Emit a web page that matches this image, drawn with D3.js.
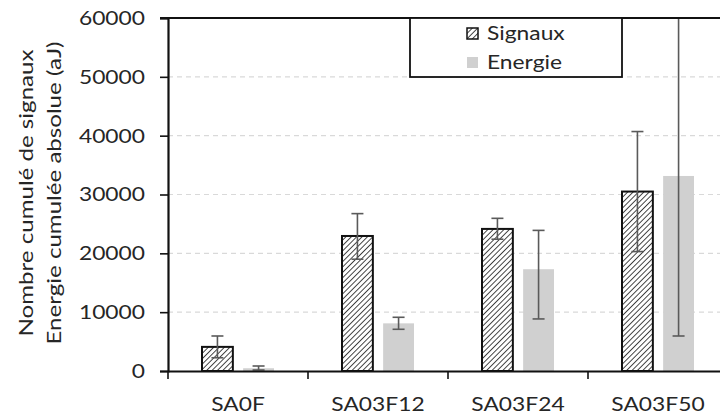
<!DOCTYPE html>
<html><head><meta charset="utf-8">
<script src="https://cdn.jsdelivr.net/npm/d3@7"></script>
<style>body{margin:0;background:#fff;} text{font-family:Lato,"Open Sans",sans-serif;fill:#262626;}</style>
</head><body>
<svg id="c" width="720" height="418"></svg>
<script>
const categories = ["SA0F","SA03F12","SA03F24","SA03F50"];
const seriesNames = ["Signaux","Energie"];
const signaux = [4100, 22950, 24150, 30500];
const signauxErrPlus = [1850, 3800, 1800, 10200];
const signauxErrMinus = [1850, 3950, 1750, 10200];
const energie = [470, 8100, 17300, 33150];
const energieErrPlus = [380, 1030, 6600, 27200];
const energieErrMinus = [300, 1010, 8450, 27200];
const yTicks = [0,10000,20000,30000,40000,50000,60000];
const yTitle = ["Nombre cumulé de signaux","Energie cumulée absolue (aJ)"];

const svg = d3.select("#c");
const L = 168, R = 728, T = 18, B = 371;
const SX = 1.14;
const x = d3.scaleBand().domain(categories).range([L, R]);
const xs = d3.scaleBand().domain(seriesNames).range([34, 106]).paddingInner(0.25);
const y = d3.scaleLinear().domain([0, 60000]).range([B, T]);

const defs = svg.append("defs");
const pat = defs.append("pattern").attr("id","hatch").attr("patternUnits","userSpaceOnUse")
  .attr("width",3.8).attr("height",3.8).attr("patternTransform","rotate(45)");
pat.append("rect").attr("width",3.8).attr("height",3.8).attr("fill","#fff");
pat.append("line").attr("x1",0).attr("y1",0).attr("x2",0).attr("y2",3.8).attr("stroke","#333").attr("stroke-width",1.8);
defs.append("clipPath").attr("id","clip").append("rect").attr("x",L).attr("y",T).attr("width",R-L).attr("height",B-T);

// gridlines
svg.append("g").selectAll("line").data(yTicks.filter(d=>d>0 && d<60000)).join("line")
  .attr("x1",L).attr("x2",720).attr("y1",d=>y(d)).attr("y2",d=>y(d))
  .attr("stroke","#d9d9d9").attr("stroke-width",1.2).attr("stroke-dasharray","5,4");

const data = categories.map((c,i)=>({c, vals:[
  {s:"Signaux", v:signaux[i], ep:signauxErrPlus[i], em:signauxErrMinus[i]},
  {s:"Energie", v:energie[i], ep:energieErrPlus[i], em:energieErrMinus[i]}]}));

const g = svg.append("g");
const cg = g.selectAll("g").data(data).join("g").attr("transform",d=>`translate(${x(d.c)},0)`);
cg.selectAll("rect").data(d=>d.vals).join("rect")
  .attr("x",d=>xs(d.s)).attr("width",xs.bandwidth())
  .attr("y",d=>y(d.v)).attr("height",d=>y(0)-y(d.v))
  .attr("fill",d=>d.s==="Signaux"?"url(#hatch)":"#d0d0d0")
  .attr("stroke",d=>d.s==="Signaux"?"#111":"none").attr("stroke-width",2);

// error bars
const eg = svg.append("g").attr("clip-path","url(#clip)");
data.forEach(d=>{
  d.vals.forEach(v=>{
    const cx = x(d.c)+xs(v.s)+xs.bandwidth()/2;
    const grp = eg.append("g").attr("stroke","#5a5a5a").attr("stroke-width",1.6);
    grp.append("line").attr("x1",cx).attr("x2",cx).attr("y1",y(v.v+v.ep)).attr("y2",y(v.v-v.em));
    [v.v+v.ep, v.v-v.em].forEach(t=>grp.append("line").attr("x1",cx-6).attr("x2",cx+6).attr("y1",y(t)).attr("y2",y(t)));
  });
});

// axes
const ya = svg.append("g").attr("transform",`translate(${L},0)`)
  .call(d3.axisLeft(y).tickValues(yTicks).tickSize(8).tickFormat(d3.format("d")));
ya.select(".domain").attr("stroke","#111").attr("stroke-width",2.2);
ya.selectAll(".tick line").attr("stroke","#111").attr("stroke-width",1.6);
ya.selectAll("text").style("font-size","20px").attr("fill","#262626")
  .attr("x",-23/SX).attr("transform",`scale(${SX},1)`);

const xa = svg.append("g").attr("transform",`translate(0,${B})`)
  .call(d3.axisBottom(x).tickSize(0).tickPadding(26));
xa.select(".domain").attr("stroke","#111").attr("stroke-width",2.2);
xa.selectAll("text").style("font-size","20px").attr("fill","#262626").attr("transform",`scale(${SX},1)`);
xa.append("g").selectAll("line").data(categories).join("line")
  .attr("x1",d=>x(d)).attr("x2",d=>x(d)).attr("y1",0).attr("y2",8)
  .attr("stroke","#111").attr("stroke-width",1.6);

// top border
svg.append("line").attr("x1",L-8).attr("x2",720).attr("y1",T).attr("y2",T).attr("stroke","#111").attr("stroke-width",2.2);

// y title
const yt = svg.append("text").attr("transform","translate(33,193) rotate(-90)").attr("text-anchor","middle").style("font-size","20px");
const tl = [287, 303];
yTitle.forEach((t,i)=>yt.append("tspan").attr("x",0).attr("dy",i===0?0:28)
  .attr("textLength",tl[i]).attr("lengthAdjust","spacingAndGlyphs").text(t));

// legend
const lg = svg.append("g");
lg.append("rect").attr("x",410).attr("y",T).attr("width",212).attr("height",59).attr("fill","#fff").attr("stroke","#111").attr("stroke-width",1.8);
seriesNames.forEach((s,i)=>{
  const yy = 33 + i*29;
  lg.append("rect").attr("x",467).attr("y",yy-5).attr("width",11).attr("height",11)
    .attr("fill",i===0?"url(#hatch)":"#d0d0d0").attr("stroke",i===0?"#111":"none").attr("stroke-width",1.5);
  lg.append("text").attr("transform",`translate(487,${yy+7}) scale(${SX},1)`).style("font-size","20px").text(s);
});
</script>
</body></html>
